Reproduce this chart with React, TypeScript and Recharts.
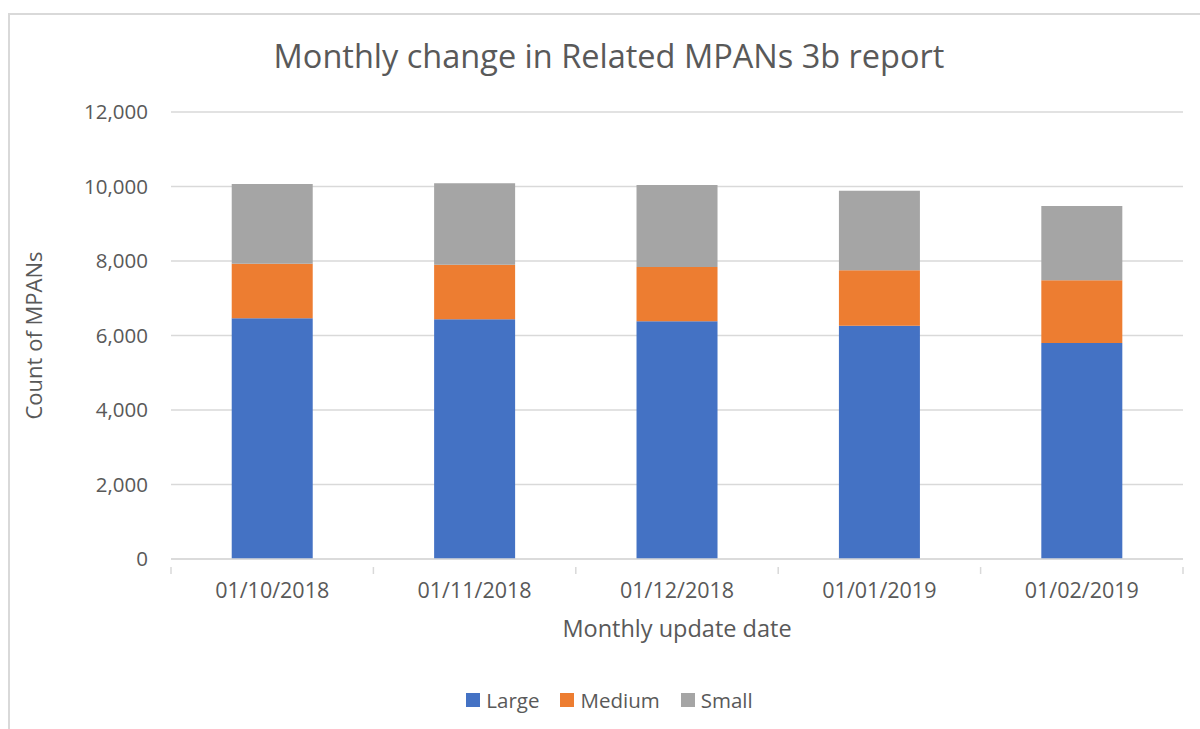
import { BarChart, Bar, XAxis, YAxis, CartesianGrid, Legend } from "recharts";

const categories = ["01/10/2018", "01/11/2018", "01/12/2018", "01/01/2019", "01/02/2019"];
const large = [6460, 6435, 6380, 6265, 5800];
const medium = [1465, 1465, 1460, 1485, 1680];
const small = [2140, 2185, 2200, 2135, 1995];
const yTicks = [0, 2000, 4000, 6000, 8000, 10000, 12000];

const seriesInfo = [
  { key: "Large", color: "#4472C4" },
  { key: "Medium", color: "#ED7D31" },
  { key: "Small", color: "#A5A5A5" },
];

const data = categories.map((c, i) => ({
  date: c,
  Large: large[i],
  Medium: medium[i],
  Small: small[i],
}));

const W = 1200;
const H = 729;
const FONT = "'Open Sans', sans-serif";
const TEXT = "#595959";
const LINE = "#d9d9d9";
const margin = { top: 112, right: 17, left: 0, bottom: 3 };
const yAxisWidth = 171;
const halfBand = (W - margin.right - yAxisWidth) / categories.length / 2;

function XTick(props: any) {
  const { x, y, payload, index } = props;
  return (
    <g>
      <line x1={x - halfBand} y1={y} x2={x - halfBand} y2={y + 7} stroke={LINE} strokeWidth={1.5} />
      {index === categories.length - 1 && (
        <line x1={x + halfBand} y1={y} x2={x + halfBand} y2={y + 7} stroke={LINE} strokeWidth={1.5} />
      )}
      <text x={x} y={y + 31} textAnchor="middle" fill={TEXT} fontSize={21.5} fontFamily={FONT}>
        {payload.value}
      </text>
    </g>
  );
}

function renderLegend() {
  return (
    <div
      style={{
        display: "flex",
        justifyContent: "center",
        gap: 21,
        paddingLeft: 36,
        fontFamily: FONT,
        fontSize: 20.5,
        color: TEXT,
      }}
    >
      {seriesInfo.map((s) => (
        <div key={s.key} style={{ display: "flex", alignItems: "center", gap: 6 }}>
          <span style={{ display: "inline-block", width: 14, height: 14, background: s.color }} />
          <span>{s.key}</span>
        </div>
      ))}
    </div>
  );
}

export default function App() {
  return (
    <div style={{ position: "absolute", left: 0, top: 0, width: W, height: H, overflow: "hidden", background: "#fff" }}>
      <div
        style={{
          position: "absolute",
          left: 8,
          top: 13,
          width: W,
          height: H,
          borderLeft: `2px solid ${LINE}`,
          borderTop: `2px solid ${LINE}`,
        }}
      />
      <div
        style={{
          position: "absolute",
          left: 0,
          top: 33,
          width: W + 18,
          textAlign: "center",
          fontFamily: FONT,
          fontSize: 32.5,
          color: TEXT,
          whiteSpace: "nowrap",
        }}
      >
        Monthly change in Related MPANs 3b report
      </div>
      <div style={{ position: "absolute", left: 0, top: 0 }}>
        <BarChart width={W} height={H} data={data} margin={margin} barCategoryGap="30%">
          <CartesianGrid vertical={false} stroke={LINE} strokeWidth={1.5} />
          <XAxis
            dataKey="date"
            axisLine={{ stroke: LINE, strokeWidth: 1.5 }}
            tickLine={false}
            tick={<XTick />}
            height={127}
            interval={0}
            label={(p: any) => {
              const vb = p.viewBox;
              return (
                <text x={vb.x + vb.width / 2} y={vb.y + 78} textAnchor="middle" fill={TEXT} fontSize={23.5} fontFamily={FONT}>
                  Monthly update date
                </text>
              );
            }}
          />
          <YAxis
            width={yAxisWidth}
            domain={[0, 12000]}
            ticks={yTicks}
            axisLine={false}
            tickLine={false}
            tickSize={0}
            tickMargin={23}
            tick={{ fill: TEXT, fontSize: 20.5, fontFamily: FONT }}
            tickFormatter={(v: number) => v.toLocaleString("en-GB")}
            label={(p: any) => {
              const vb = p.viewBox;
              const cx = vb.x + 33;
              const cy = vb.y + vb.height / 2;
              return (
                <text
                  x={cx}
                  y={cy}
                  transform={`rotate(-90 ${cx} ${cy})`}
                  textAnchor="middle"
                  dominantBaseline="central"
                  fill={TEXT}
                  fontSize={22}
                  fontFamily={FONT}
                >
                  Count of MPANs
                </text>
              );
            }}
          />
          <Legend verticalAlign="bottom" height={40} content={renderLegend} />
          {seriesInfo.map((s) => (
            <Bar key={s.key} dataKey={s.key} stackId="a" fill={s.color} isAnimationActive={false} />
          ))}
        </BarChart>
      </div>
    </div>
  );
}
